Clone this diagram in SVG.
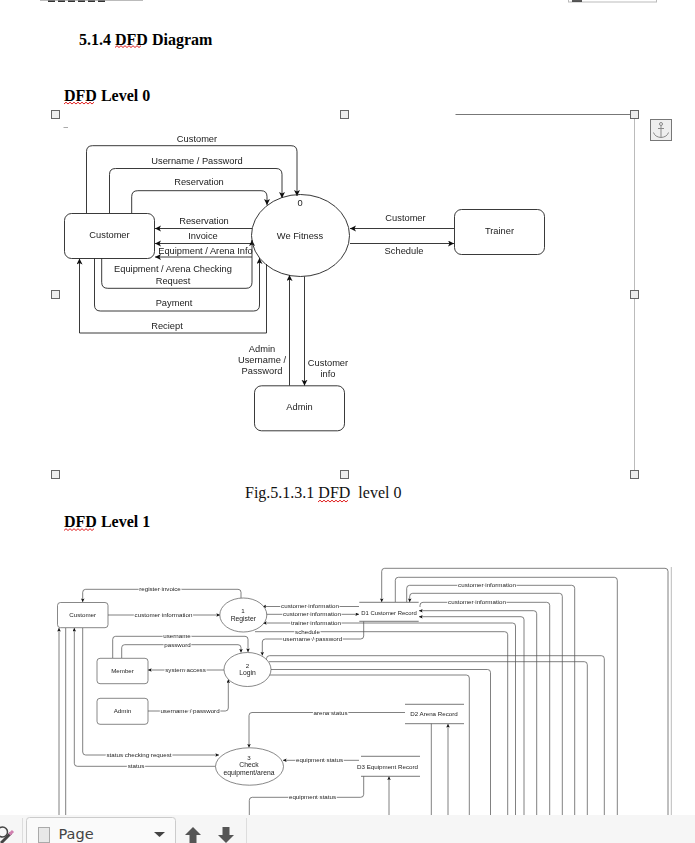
<svg xmlns="http://www.w3.org/2000/svg" width="695" height="843" viewBox="0 0 695 843">
<style>
.h{font-family:"Liberation Serif",serif;font-weight:bold;font-size:16px;fill:#000}
.cap{font-family:"Liberation Serif",serif;font-size:16px;fill:#111}
.sq{fill:none;stroke:#e02020;stroke-width:1}
.hd{fill:#eee;stroke:#666;stroke-width:1}
.a{font-family:"Liberation Sans",Arial,sans-serif;font-size:9.3px;fill:#222;text-anchor:middle}
.n{fill:#fff;stroke:#222;stroke-width:.9}
.c{fill:none;stroke:#222;stroke-width:.9}
.c0 path{marker-end:url(#ah)}
.c0 path.x{marker-end:none}
.b{font-family:"Liberation Sans",Arial,sans-serif;font-size:6.2px;fill:#222;text-anchor:middle}
.e{font-size:6.8px}
.l{paint-order:stroke;stroke:#fff;stroke-width:2px}
.n1{fill:#fff;stroke:#555;stroke-width:.7}
.s1{fill:none;stroke:#555;stroke-width:.8}
.c1 path{fill:none;stroke:#555;stroke-width:.75;marker-end:url(#as)}
.c1 path.x{marker-end:none}
.tb{fill:#f6f6f6}
</style>
<defs>
<marker id="ah" markerUnits="userSpaceOnUse" markerWidth="7" markerHeight="7" refX="6" refY="3" orient="auto"><path d="M0 0L6 3L0 6L1.5 3Z" fill="#111"/></marker>
<marker id="as" markerUnits="userSpaceOnUse" markerWidth="5" markerHeight="5" refX="3.600" refY="1.800" orient="auto"><path d="M0 0L3.600 1.800L0 3.600L.8 1.800Z" fill="#111"/></marker>
<filter id="soft" x="-2%" y="-2%" width="104%" height="104%"><feGaussianBlur stdDeviation="0.28"/></filter>
</defs>
<rect width="695" height="843" fill="#fff"/>

<g id="page-text">
<path d="M40 .5H143" stroke="#bbb" fill="none"/>
<path d="M48 1.200H105" stroke="#333" stroke-width="1.500" stroke-dasharray="7 3" fill="none"/>
<rect x="568.500" y="-3" width="88" height="5" fill="none" stroke="#bbb"/>
<path d="M572 1H582" stroke="#222" stroke-width="1.500" fill="none"/>
<text class="h" x="79" y="45">5.1.4 DFD Diagram</text>
<path class="sq" d="M115 47.500l2-1.800 2 1.800 2-1.800 2 1.800 2-1.800 2 1.800 2-1.800 2 1.800 2-1.800 2 1.800 2-1.800 2 1.800 2-1.800"/>
<text class="h" x="64" y="100.800">DFD Level 0</text>
<path class="sq" d="M64 104l2-1.800 2 1.800 2-1.800 2 1.800 2-1.800 2 1.800 2-1.800 2 1.800 2-1.800 2 1.800 2-1.800 2 1.800 2-1.800 2 1.800 2-1.800"/>
<text class="cap" x="245" y="498" xml:space="preserve">Fig.5.1.3.1 DFD  level 0</text>
<path class="sq" d="M318 502l2-1.800 2 1.800 2-1.800 2 1.800 2-1.800 2 1.800 2-1.800 2 1.800 2-1.800 2 1.800 2-1.800 2 1.800 2-1.800 2 1.800 2-1.800"/>
<text class="h" x="64" y="527">DFD Level 1</text>
<path class="sq" d="M64 530.500l2-1.800 2 1.800 2-1.800 2 1.800 2-1.800 2 1.800 2-1.800 2 1.800 2-1.800 2 1.800 2-1.800 2 1.800 2-1.800 2 1.800 2-1.800"/>
</g>

<g id="selection-frame">
<path d="M455.500 114.500H634" stroke="#777" fill="none"/>
<path d="M634.500 118V470" stroke="#bbb" fill="none"/>
<path d="M63.500 127.500H68" stroke="#aaa" fill="none"/>
<rect class="hd" x="51.500" y="110.500" width="8" height="8"/>
<rect class="hd" x="340.500" y="110.500" width="8" height="8"/>
<rect class="hd" x="630.500" y="110.500" width="8" height="8"/>
<rect class="hd" x="51.500" y="290.500" width="8" height="8"/>
<rect class="hd" x="630.500" y="290.500" width="8" height="8"/>
<rect class="hd" x="51.500" y="470.500" width="8" height="8"/>
<rect class="hd" x="340.500" y="470.500" width="8" height="8"/>
<rect class="hd" x="630.500" y="470.500" width="8" height="8"/>
<rect x="650.500" y="119.500" width="21" height="21" fill="#eee" stroke="#777"/>
<path d="M661 125.500V137M658 128.500H664M653.500 132.500Q655 137 661 137.500Q667 137 668.500 132.500" fill="none" stroke="#888"/>
<circle cx="661" cy="124" r="1.500" fill="none" stroke="#888"/>
</g>

<g id="level0" filter="url(#soft)">
<g id="connectors0" class="c c0">
<path d="M86.500 213V151.700Q86.500 145.700 92.500 145.700H291Q297 145.700 297 151.700V196"/>
<path d="M109.500 213V174.500Q109.500 168.500 115.500 168.500H276Q282 168.500 282 174.500V198"/>
<path d="M131.700 213V196.700Q131.700 190.700 137.700 190.700H261Q267 190.700 267 196.700V205"/>
<path d="M252 228.500H155"/>
<path d="M253 243.500H155"/>
<path d="M252 257H155"/>
<path d="M101.700 258V282.300Q101.700 288.300 107.700 288.300H246Q252 288.300 252 282.300V240"/>
<path d="M94.500 258V305Q94.500 311 100.500 311H253.500Q259.500 311 259.500 305V258"/>
<path d="M266.500 264V333H79.500V258.500"/>
<path d="M454 228.500H350"/>
<path d="M350 243.500H454"/>
<path d="M289.500 385.700V275"/>
<path d="M304.500 276.500V385.700"/>
</g>
<g id="customer0"><rect class="n" x="64.500" y="213.500" width="90" height="45" rx="7"/><text class="a" x="109.500" y="237.500">Customer</text></g>
<g id="wefitness0"><ellipse class="n" cx="300.500" cy="235.500" rx="49" ry="41" style="fill:none"/><text class="a" x="300" y="205.500">0</text><text class="a" x="300" y="239">We Fitness</text></g>
<g id="trainer0"><rect class="n" x="454.500" y="209.500" width="90" height="45" rx="7"/><text class="a" x="499.500" y="234">Trainer</text></g>
<g id="admin0"><rect class="n" x="254.500" y="385.800" width="90" height="45" rx="7"/><text class="a" x="299.500" y="410">Admin</text></g>
<g id="labels0">
<text class="a" x="197" y="142">Customer</text>
<text class="a" x="197" y="163.500">Username / Password</text>
<text class="a" x="199" y="185">Reservation</text>
<text class="a" x="204" y="223.500">Reservation</text>
<text class="a" x="203" y="239">Invoice</text>
<text class="a" x="205.500" y="253.500">Equipment / Arena Info</text>
<text class="a" x="173" y="272">Equipment / Arena Checking</text>
<text class="a" x="173" y="283.500">Request</text>
<text class="a" x="174" y="306">Payment</text>
<text class="a" x="167" y="328.500">Reciept</text>
<text class="a" x="262" y="351.500">Admin</text>
<text class="a" x="262" y="363">Username /</text>
<text class="a" x="262" y="374">Password</text>
<text class="a" x="328" y="365.500">Customer</text>
<text class="a" x="328" y="376.500">info</text>
<text class="a" x="405.500" y="221">Customer</text>
<text class="a" x="404" y="253.500">Schedule</text>
</g>
</g>

<g id="level1" filter="url(#soft)">
<g id="connectors1" class="c1">
<path d="M59 815V628"/>
<path class="x" d="M65.700 815V628"/>
<path d="M241 598V592.300Q241 589.300 238 589.300H85.700Q82.700 589.300 82.700 592.300V602"/>
<path d="M108 615H220"/>
<path d="M112.700 658V639.300Q112.700 636.300 115.700 636.300H245Q248 636.300 248 639.300V652"/>
<path d="M121.700 658V647.700Q121.700 644.700 124.700 644.700H238Q241 644.700 241 647.700V652.500"/>
<path d="M224 670H148"/>
<path d="M148 711H225.300Q228.300 711 228.300 708V679.500"/>
<path d="M82.700 628V752Q82.700 755 85.700 755H219"/>
<path class="x" d="M215.500 766.300H77.300Q74.300 766.300 74.300 763.300V628" style="marker-end:url(#as)"/>
<path d="M359 606.500H262.500"/>
<path d="M266 614.300H359"/>
<path d="M515.500 815V626Q515.500 623 512.500 623H263"/>
<path class="x" d="M255 631.700H504.700Q507.700 631.700 507.700 634.700V815"/>
<path d="M363.700 621.300V636Q363.700 639 360.700 639H265.300Q262.300 639 262.300 642V655.500"/>
<path d="M668 815V571.300Q668 568.300 665 568.300H384.700Q381.700 568.300 381.700 571.300V602"/>
<path class="x" d="M395.300 602V580.300Q395.300 577.300 398.300 577.300H614.300Q617.300 577.300 617.300 580.300V815"/>
<path class="x" d="M406.700 602V588.300Q406.700 585.300 409.700 585.300H571.700Q574.700 585.300 574.700 588.300V815"/>
<path d="M562.300 815V596.300Q562.300 593.300 559.300 593.300H412.700Q409.700 593.300 409.700 596.300V602"/>
<path class="x" d="M420 607V605.300Q420 602.300 423 602.300H546.700Q549.700 602.300 549.700 605.300V815"/>
<path d="M536.700 815V613.700Q536.700 610.700 533.700 610.700H419"/>
<path d="M524 815V619.700Q524 616.700 521 616.700H419"/>
<path class="x" d="M266.500 660V658.700Q266.500 655.700 269.500 655.700H601.300Q604.300 655.700 604.300 658.700V815"/>
<path class="x" d="M269 661.700H584.300Q587.300 661.700 587.300 664.700V815"/>
<path class="x" d="M271 669.500H487.500Q490.500 669.500 490.500 672.500V815"/>
<path class="x" d="M269.500 675H466.300Q469.300 675 469.300 678V815"/>
<path d="M405 712.500H252Q249 712.500 249 715.500V747.500"/>
<path d="M359 760.300H283"/>
<path class="x" d="M363.700 776.300V794.300Q363.700 797.300 360.700 797.300H252.300Q249.300 797.300 249.300 800.300V815"/>
<path class="x" d="M431.300 723.700V815"/>
<path d="M448 815V724"/>
<path d="M389 815V776.500"/>
</g>
<g id="customer1"><rect class="n1" x="57.500" y="602.500" width="50.500" height="25.200" rx="3"/><text class="b" x="82.700" y="616.500">Customer</text></g>
<g id="register"><ellipse class="n1" cx="243.300" cy="615" rx="23.500" ry="17"/><text class="b" x="243" y="612.500">1</text><text class="b e" x="243.300" y="620.500">Register</text></g>
<g id="login"><ellipse class="n1" cx="247.500" cy="669.500" rx="23.500" ry="17"/><text class="b" x="247.500" y="667.500">2</text><text class="b e" x="247.500" y="675">Login</text></g>
<g id="member"><rect class="n1" x="97" y="658.300" width="51" height="25.400" rx="3"/><text class="b" x="122.500" y="672.800">Member</text></g>
<g id="admin1"><rect class="n1" x="97" y="698.300" width="51" height="26" rx="3"/><text class="b" x="122.500" y="712.800">Admin</text></g>
<g id="check"><ellipse class="n1" cx="249.500" cy="766.500" rx="34" ry="18.700"/><text class="b" x="249" y="759.800">3</text><text class="b e" x="249" y="767.300">Check</text><text class="b e" x="249" y="775">equipment/arena</text></g>
<g id="d1"><rect x="359.300" y="602.300" width="59.400" height="19" fill="#fff"/><path class="s1" d="M359.300 602.300H418.700M359.300 621.300H418.700"/><text class="b" x="389" y="614.500" style="font-size:5.900px">D1 Customer Record</text></g>
<g id="d2"><path class="s1" d="M405 704.300H464M405 723.700H464"/><text class="b" x="434" y="716">D2 Arena Record</text></g>
<g id="d3"><path class="s1" d="M361 756.300H420M361 776.300H420"/><text class="b" x="387.500" y="768.700">D3 Equipment Record</text></g>
<g id="labels1">
<text class="b l" x="160" y="591.300">register invoice</text>
<text class="b l" x="163.500" y="617">customer information</text>
<text class="b l" x="177" y="638.300">username</text>
<text class="b l" x="177.500" y="646.700">password</text>
<text class="b l" x="185.500" y="672">system access</text>
<text class="b l" x="190" y="713">username / password</text>
<text class="b l" x="139" y="757">status checking request</text>
<text class="b l" x="136" y="768.300">status</text>
<text class="b l" x="310" y="608.400">customer information</text>
<text class="b l" x="312" y="616.300">customer information</text>
<text class="b l" x="316" y="625">trainer information</text>
<text class="b l" x="307.500" y="633.700">schedule</text>
<text class="b l" x="312.500" y="641">username / password</text>
<text class="b l" x="487" y="587.300">customer information</text>
<text class="b l" x="477" y="604.300">customer information</text>
<text class="b l" x="330.500" y="714.500">arena status</text>
<text class="b l" x="319.500" y="762.300">equipment status</text>
<text class="b l" x="312.500" y="799.300">equipment status</text>
</g>
</g>
<path d="M671.300 567V815" stroke="#bbb" fill="none"/>

<g id="toolbar">
<rect class="tb" x="0" y="815" width="695" height="28"/>
<path d="M22.500 818V843M246.500 818V843" stroke="#ddd" fill="none"/>
<rect x="26.500" y="817.500" width="149" height="30" rx="3" fill="#fafafa" stroke="#ccc"/>
<rect x="38.500" y="827.500" width="11" height="15" fill="#e8e8e8" stroke="#aaa"/>
<text x="58.500" y="839" style="font-family:'DejaVu Sans',sans-serif;font-size:14.500px;fill:#444">Page</text>
<path d="M154 832H165L159.500 837Z" fill="#444"/>
<path d="M193 827L201 835H196.500V843H189.500V835H185Z" fill="#555"/>
<path d="M226 843L218 835H222.500V827H229.500V835H234Z" fill="#555"/>
<circle cx="2.500" cy="832" r="5" fill="none" stroke="#444" stroke-width="1.500"/>
<path d="M1 843L11 833" stroke="#444" stroke-width="3" fill="none"/>
<path d="M9.500 834.500L13 831" stroke="#d080b0" stroke-width="3" fill="none"/>
</g>
</svg>
